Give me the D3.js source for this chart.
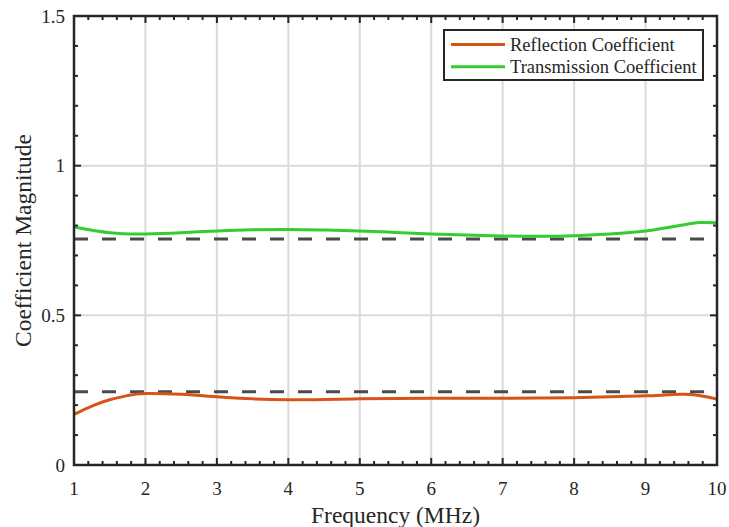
<!DOCTYPE html>
<html><head><meta charset="utf-8">
<script src="https://cdn.jsdelivr.net/npm/d3@7"></script>
<style>body{margin:0;background:#fff}svg{display:block}text{font-family:"Liberation Serif","Times New Roman",Times,serif}</style>
</head><body>
<svg id="c" width="729" height="527"></svg>
<script>
const freqGreen = [1,1.5,2,2.5,3,3.5,4,4.5,5,5.5,6,6.5,7,7.5,8,8.5,9,9.5,9.75,10];
const transmission = [0.795,0.776,0.772,0.776,0.782,0.786,0.787,0.785,0.782,0.777,0.772,0.768,0.765,0.764,0.766,0.772,0.782,0.801,0.810,0.809];
const freqOrange = [1,1.25,1.5,1.75,2,2.5,3,3.5,4,4.5,5,5.5,6,6.5,7,7.5,8,8.5,9,9.5,9.75,10];
const reflection = [0.169,0.197,0.218,0.232,0.239,0.236,0.228,0.221,0.218,0.219,0.221,0.222,0.223,0.223,0.223,0.224,0.225,0.228,0.231,0.236,0.232,0.220];
const refLevels = [0.755, 0.245];
const xTicks = [1,2,3,4,5,6,7,8,9,10];
const yTicks = [0,0.5,1,1.5];
const yTickLabels = ["0","0.5","1","1.5"];
const seriesNames = ["Reflection Coefficient","Transmission Coefficient"];
const seriesColors = ["#D95319","#33CC33"];

const svg = d3.select("#c");
const L=74,R=717,T=16,B=465;
const x = d3.scaleLinear().domain([1,10]).range([L,R]);
const y = d3.scaleLinear().domain([0,1.5]).range([B,T]);

// grid
const g = svg.append("g");
g.selectAll(".gx").data(xTicks.slice(1,-1)).enter().append("line")
 .attr("x1",d=>x(d)).attr("x2",d=>x(d)).attr("y1",T).attr("y2",B)
 .attr("stroke","#dadada").attr("stroke-width",2);
g.selectAll(".gy").data(yTicks.slice(1,-1)).enter().append("line")
 .attr("y1",d=>y(d)).attr("y2",d=>y(d)).attr("x1",L).attr("x2",R)
 .attr("stroke","#dadada").attr("stroke-width",2);

// dashed reference lines
svg.selectAll(".ref").data(refLevels).enter().append("line")
 .attr("x1",L).attr("x2",R).attr("y1",d=>y(d)).attr("y2",d=>y(d))
 .attr("stroke","#4a4a4a").attr("stroke-width",3).attr("stroke-dasharray","14,14");

// curves
const line = d3.line().curve(d3.curveNatural);
svg.append("path").attr("d",line(freqOrange.map((f,i)=>[x(f),y(reflection[i])])))
 .attr("fill","none").attr("stroke",seriesColors[0]).attr("stroke-width",3);
svg.append("path").attr("d",line(freqGreen.map((f,i)=>[x(f),y(transmission[i])])))
 .attr("fill","none").attr("stroke",seriesColors[1]).attr("stroke-width",3);

// ticks (inward, all sides)
const tk = svg.append("g").attr("stroke","#262626").attr("stroke-width",2);
const xMinor = d3.range(1,10.001,0.2).map(v=>+v.toFixed(2));
const yMinor = d3.range(0,1.5001,0.1).map(v=>+v.toFixed(2));
xMinor.forEach(v=>{
  const major = xTicks.some(t=>Math.abs(t-v)<1e-6);
  const len = major?7:4;
  tk.append("line").attr("x1",x(v)).attr("x2",x(v)).attr("y1",B).attr("y2",B-len);
  tk.append("line").attr("x1",x(v)).attr("x2",x(v)).attr("y1",T).attr("y2",T+len);
});
yMinor.forEach(v=>{
  const major = yTicks.some(t=>Math.abs(t-v)<1e-6);
  const len = major?7:4;
  tk.append("line").attr("y1",y(v)).attr("y2",y(v)).attr("x1",L).attr("x2",L+len);
  tk.append("line").attr("y1",y(v)).attr("y2",y(v)).attr("x1",R).attr("x2",R-len);
});

// axes box
svg.append("rect").attr("x",L).attr("y",T).attr("width",R-L).attr("height",B-T)
 .attr("fill","none").attr("stroke","#262626").attr("stroke-width",2.5);

// tick labels
svg.selectAll(".xl").data(xTicks).enter().append("text")
 .attr("x",d=>x(d)).attr("y",495).attr("text-anchor","middle")
 .attr("font-size",19).attr("fill","#262626").text(d=>d);
svg.selectAll(".yl").data(yTicks).enter().append("text")
 .attr("x",L-9).attr("y",d=>y(d)+6.5).attr("text-anchor","end")
 .attr("font-size",19).attr("fill","#262626").text((d,i)=>yTickLabels[i]);

// axis titles
svg.append("text").attr("x",(L+R)/2).attr("y",523).attr("text-anchor","middle")
 .attr("font-size",23.5).attr("fill","#262626").text("Frequency (MHz)");
svg.append("text").attr("transform",`translate(31,${(T+B)/2}) rotate(-90)`).attr("text-anchor","middle")
 .attr("font-size",23.5).attr("fill","#262626").text("Coefficient Magnitude");

// legend
const lg = svg.append("g");
lg.append("rect").attr("x",444).attr("y",30).attr("width",259).attr("height",50)
 .attr("fill","#fff").attr("stroke","#262626").attr("stroke-width",2);
seriesNames.forEach((n,i)=>{
  const yy = 44.5 + i*22.3;
  lg.append("line").attr("x1",451).attr("x2",505).attr("y1",yy).attr("y2",yy)
   .attr("stroke",seriesColors[i]).attr("stroke-width",3);
  lg.append("text").attr("x",510).attr("y",yy+6.5).attr("font-size",18.5)
   .attr("fill","#262626").text(n);
});
</script>
</body></html>
